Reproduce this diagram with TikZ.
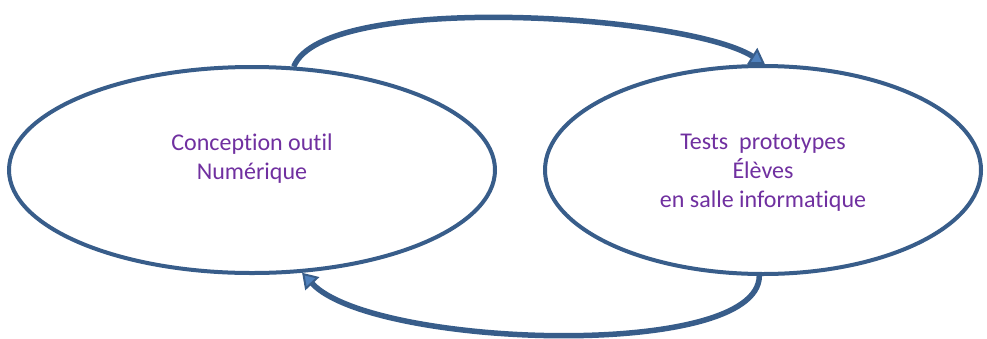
\documentclass[tikz,border=0pt]{standalone}
\usepackage{fontspec}
\setmainfont{Carlito}[Ligatures={NoCommon}]
\usepackage{xcolor}
\usepackage{tikz}
\usetikzlibrary{positioning, shapes.geometric, arrows.meta, calc}

\definecolor{ringblue}{HTML}{385D8A}
\definecolor{arrowblue}{HTML}{4F81BD}
\definecolor{textpurple}{HTML}{7030A0}

\tikzset{
  ring/.style={ellipse, draw=ringblue, line width=4pt, fill=white},
  lbl/.style={align=center, text=textpurple, font=\fontsize{24}{29}\selectfont},
  cycle/.style={draw=ringblue, line width=5.5pt,
    -{Triangle[length=15pt, width=19pt, fill=arrowblue, line width=2pt]}}
}

\begin{document}
\begin{tikzpicture}[x=1pt, y=-1pt]
          \useasboundingbox (0,0) rectangle (987,338);

          % Phases
          \node[ring, minimum width=486pt, minimum height=206pt] (concept) at (252,170) {};
          \node[ring, minimum width=436pt, minimum height=208pt] (tests) at (763,170) {};

          \node[lbl] (conceptlbl) at ([yshift=11pt]concept.center) {Conception outil\\Numérique};
          \node[lbl] (testslbl) at ([yshift=-3pt]tests.center) {Tests~ prototypes\\Élèves\\en salle informatique};

          % Cycle
          \draw[cycle] (concept.68) .. controls +(30,-75) and +(-80,-50) .. (tests.89);
          \draw[cycle] (tests.268) .. controls +(-1,85) and +(70,75) .. (concept.296);
        \end{tikzpicture}
\end{document}
